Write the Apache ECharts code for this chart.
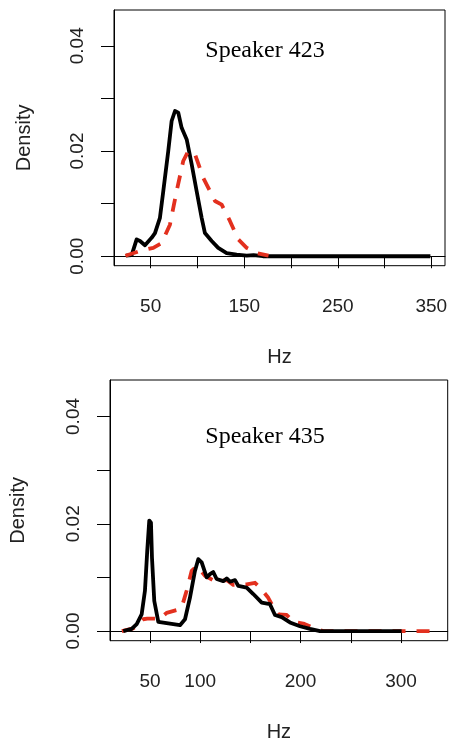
<!DOCTYPE html>
<html>
<head>
<meta charset="utf-8">
<script src="https://cdn.jsdelivr.net/npm/echarts@6/dist/echarts.min.js"></script>
<style>html,body{margin:0;padding:0;background:#fff}#c{width:451px;height:745px}</style>
</head>
<body>
<div id="c"></div>
<script>
// ---- Data ----
const titles = ['Speaker 423', 'Speaker 435'];
const yTicks = [0, 0.01, 0.02, 0.03, 0.04];
const yLabels = [0, 0.02, 0.04];
const xTicksTop = [50, 100, 150, 200, 250, 300, 350];
const xLabelsTop = [50, 150, 250, 350];
const xTicksBottom = [50, 100, 150, 200, 250, 300];
const xLabelsBottom = [50, 100, 200, 300];

// Speaker 423
const hz423Black = [23.6, 29.7, 35, 38.6, 43.9, 51, 54.6, 59.9, 63.5, 68.8, 72.4, 76, 79.5, 83.1, 88.5, 93.8, 99.1, 104.5, 108, 115.2, 122.2, 131.2, 141.9, 152.6, 160, 170, 349];
const dens423Black = [0.0001, 0.0002, 0.0032, 0.0029, 0.0021, 0.0035, 0.0044, 0.0073, 0.0124, 0.020, 0.0257, 0.0276, 0.0273, 0.0244, 0.0222, 0.0175, 0.0124, 0.0073, 0.0044, 0.0029, 0.0016, 0.0006, 0.0003, 0.0001, 0.0002, 0, 0];
const hz423Red = [23, 38.6, 52.8, 61.7, 70.6, 77.8, 84.8, 90.2, 97.3, 106.2, 118.7, 125.9, 134.7, 143.6, 152.6, 163.2, 176];
const dens423Red = [0.0001, 0.001, 0.0016, 0.0025, 0.006, 0.0124, 0.0181, 0.020, 0.0194, 0.0149, 0.0105, 0.0098, 0.0067, 0.0032, 0.0016, 0.0006, 0.0001];

// Speaker 435
const hz435Black = [23.4, 31.8, 36.8, 41.7, 45, 47.3, 49.3, 51, 52, 54.3, 58.3, 69.9, 79.9, 84.9, 89.8, 94.8, 98.1, 101.5, 106.5, 109.8, 113, 116.4, 123, 126.4, 129.7, 134.7, 138, 146.3, 152.9, 161.3, 169.5, 174.5, 181.2, 189.4, 199.4, 209.4, 219.3, 300.6];
const dens435Black = [0, 0.0004, 0.0013, 0.0031, 0.0075, 0.015, 0.0206, 0.0202, 0.0137, 0.0056, 0.0017, 0.0014, 0.0011, 0.0022, 0.0062, 0.0112, 0.0134, 0.0128, 0.010, 0.0106, 0.011, 0.0097, 0.0093, 0.0098, 0.0092, 0.0095, 0.0084, 0.0081, 0.0069, 0.0053, 0.005, 0.003, 0.0026, 0.0016, 0.0009, 0.0004, 0, 0];
const hz435Red = [22, 33.4, 43.3, 47.3, 60, 66.6, 76.6, 81.6, 86.5, 91.5, 96.5, 104.8, 114.7, 126.4, 133, 146.3, 154.6, 159.6, 167.8, 171.2, 177.8, 186.2, 192.7, 202.7, 212.6, 222.6, 337];
const dens435Red = [0, 0.0005, 0.0022, 0.0023, 0.0023, 0.0034, 0.0039, 0.0044, 0.0075, 0.0112, 0.0121, 0.0103, 0.0093, 0.0095, 0.0086, 0.0087, 0.009, 0.0081, 0.0062, 0.005, 0.0031, 0.003, 0.0017, 0.0014, 0.0006, 0, 0];

const zip = (xs, ys) => xs.map((x, i) => [x, ys[i]]);

const SANS = 'Liberation Sans';
const RED = '#e3301e';

function xAxis(gi, min, max, ticks, labels) {
  return {
    type: 'value', gridIndex: gi, min: min, max: max,
    name: 'Hz', nameLocation: 'middle', nameGap: 82,
    nameTextStyle: { fontFamily: SANS, fontSize: 20, color: '#222' },
    axisLine: { show: true, lineStyle: { color: '#000', width: 1 } },
    axisTick: { show: true, length: 12, customValues: ticks, lineStyle: { color: '#000', width: 1 } },
    axisLabel: { customValues: labels, margin: 32, fontFamily: SANS, fontSize: 19, color: '#222' },
    splitLine: { show: false }
  };
}
function yAxis(gi, nameGap) {
  return {
    type: 'value', gridIndex: gi, min: -0.0018, max: 0.0468,
    name: 'Density', nameLocation: 'middle', nameGap: nameGap,
    nameTextStyle: { fontFamily: SANS, fontSize: 20, color: '#222' },
    axisLine: { show: true, lineStyle: { color: '#000', width: 1 } },
    axisTick: { show: true, length: 13, customValues: yTicks, lineStyle: { color: '#000', width: 1 } },
    axisLabel: { customValues: yLabels, rotate: 90, margin: 27, fontFamily: SANS, fontSize: 19, color: '#222',
      formatter: v => Number(v).toFixed(2) },
    splitLine: { show: false }
  };
}
function line(gi, data, color, dashed, z) {
  return {
    type: 'line', xAxisIndex: gi, yAxisIndex: gi, data: data, showSymbol: false, symbol: 'none',
    z: z, silent: true,
    lineStyle: { color: color, width: 3.8, type: dashed ? [13, 11] : 'solid', cap: 'butt', join: 'round' }
  };
}

const chart = echarts.init(document.getElementById('c'), null, { renderer: 'canvas' });
chart.setOption({
  animation: false,
  backgroundColor: '#fff',
  grid: [
    { left: 114, top: 10, width: 331, height: 255.7, show: true, borderColor: '#000', borderWidth: 1, backgroundColor: 'transparent' },
    { left: 110, top: 380, width: 337.7, height: 260.7, show: true, borderColor: '#000', borderWidth: 1, backgroundColor: 'transparent' }
  ],
  xAxis: [xAxis(0, 10.8, 364.6, xTicksTop, xLabelsTop), xAxis(1, 10.2, 346.5, xTicksBottom, xLabelsBottom)],
  yAxis: [yAxis(0, 80), yAxis(1, 82)],
  graphic: [
    { type: 'text', x: 265, y: 51, style: { text: titles[0], font: '24px "Liberation Serif"', fill: '#000', align: 'center', verticalAlign: 'middle' } },
    { type: 'text', x: 265, y: 437, style: { text: titles[1], font: '24px "Liberation Serif"', fill: '#000', align: 'center', verticalAlign: 'middle' } }
  ],
  series: [
    line(0, zip(hz423Black, dens423Black), '#000', false, 2),
    line(0, zip(hz423Red, dens423Red), RED, true, 3),
    line(1, zip(hz435Red, dens435Red), RED, true, 2),
    line(1, zip(hz435Black, dens435Black), '#000', false, 3)
  ]
});
</script>
</body>
</html>
